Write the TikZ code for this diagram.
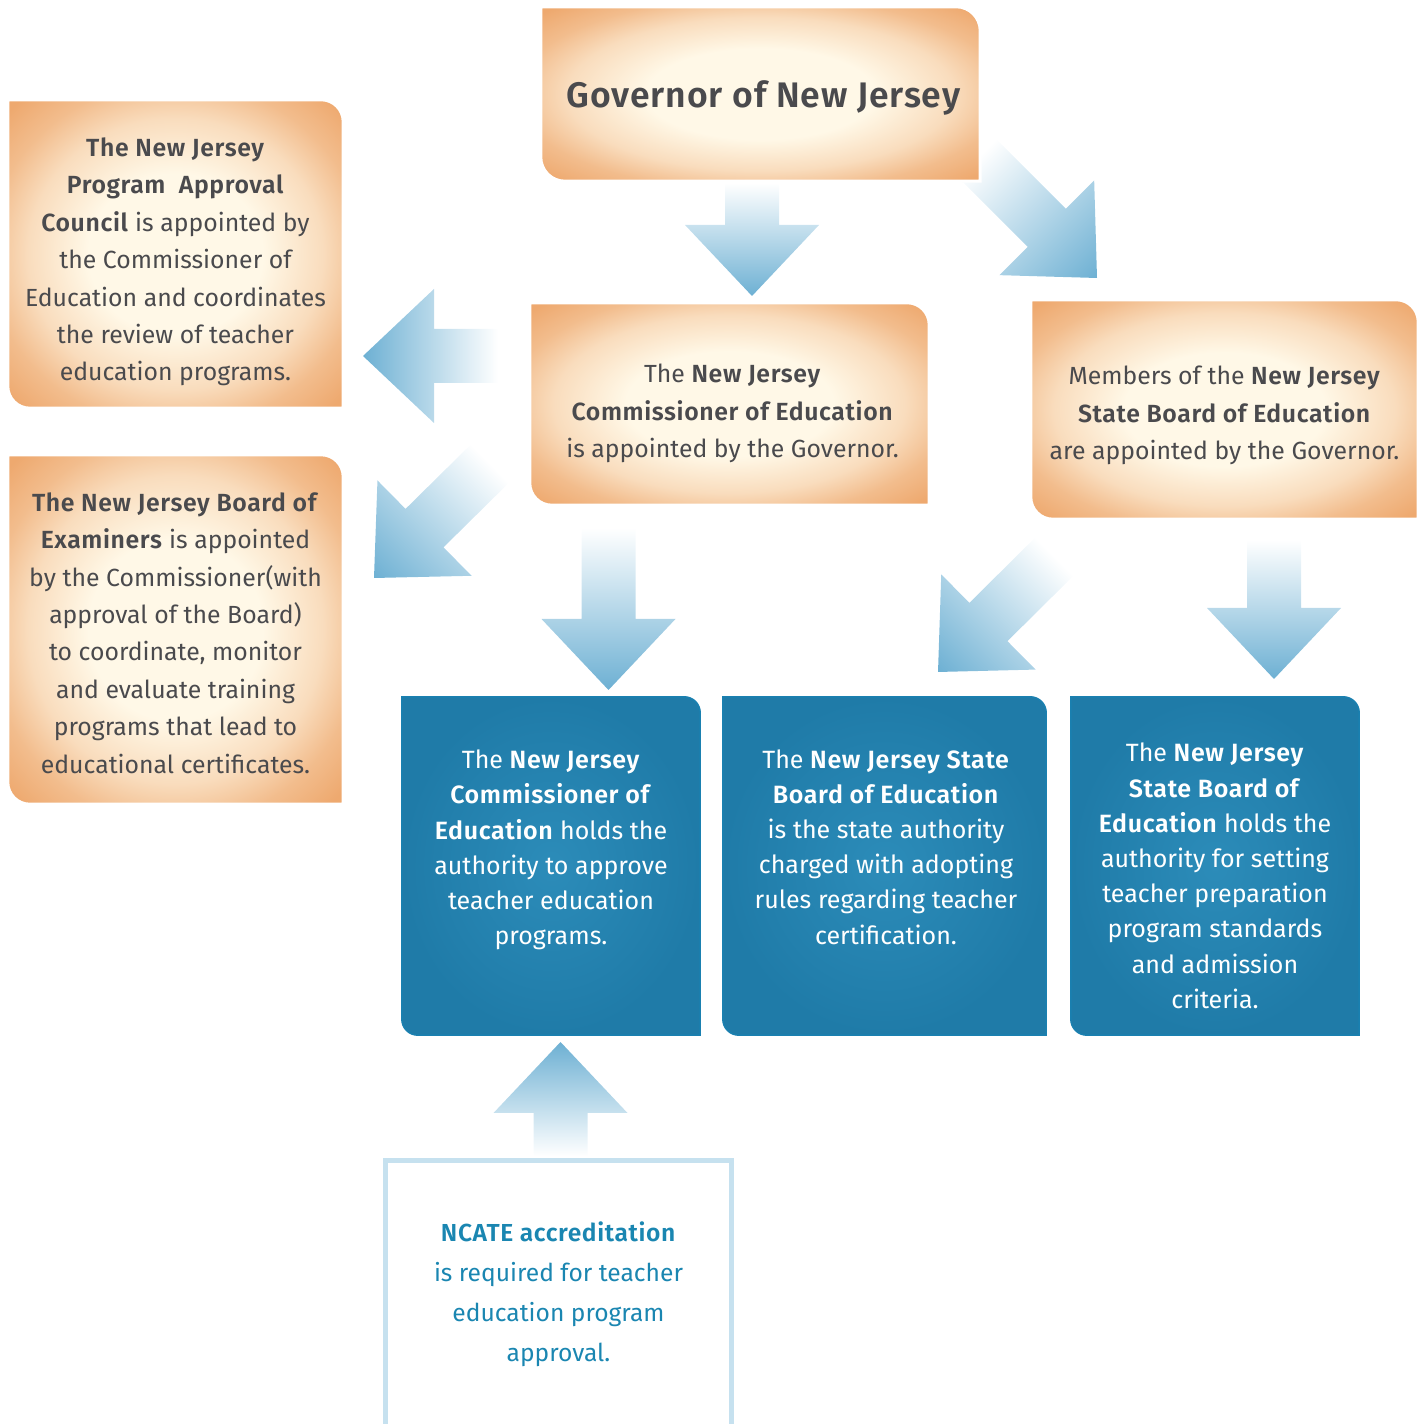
\documentclass[tikz,border=0pt]{standalone}
\usepackage{fontspec}
\setmainfont{Fira Sans}[BoldFont={Fira Sans SemiBold},BoldFeatures={LetterSpace=2.5}]
\usetikzlibrary{calc}
\definecolor{inkgray}{HTML}{4A4A4D}
\definecolor{peach}{HTML}{EEA96F}
\definecolor{cream}{HTML}{FFF8E7}
\definecolor{slatein}{HTML}{2C8CB9}
\definecolor{slateout}{HTML}{1F7BA8}
\definecolor{slateedge}{HTML}{1A80B0}
\definecolor{skyarrow}{HTML}{6DB0D3}
\definecolor{ncateblue}{HTML}{1A86B1}
\definecolor{ncateedge}{HTML}{C6E1EF}

\pgfdeclareradialshading{peachglow}{\pgfpoint{0bp}{0bp}}{color(0bp)=(cream); color(13bp)=(cream); color(22bp)=(peach!35!cream); color(28bp)=(peach!75!cream); color(34bp)=(peach); color(50bp)=(peach)}

% box outline with rounded top-right and bottom-left corners
\newcommand\cutbox[2]{(#1.north west) -- ([xshift=-#2]#1.north east) arc[start angle=90,end angle=0,radius=#2] -- (#1.south east) -- ([xshift=#2]#1.south west) arc[start angle=270,end angle=180,radius=#2] -- cycle}

% shaded block arrow from one coordinate to another
\newcommand\blockarrow[2]{%
  \path let \p1=(#1), \p2=(#2) in
    \pgfextra{\pgfmathsetmacro\arrang{atan2(\y2-\y1,\x2-\x1)}%
              \pgfmathsetmacro\arrlen{veclen(\x2-\x1,\y2-\y1)}%
              \xdef\arrang{\arrang}\xdef\arrlen{\arrlen}};
  \begin{scope}[transform canvas={shift={(#1)},rotate=\arrang}]
    \shade[left color=white,right color=skyarrow]
      (0,-27) -- (\arrlen-71,-27) -- (\arrlen-71,-67) -- (\arrlen,0)
      -- (\arrlen-71,67) -- (\arrlen-71,27) -- (0,27) -- cycle;
  \end{scope}}

\begin{document}
\begin{tikzpicture}[x=1pt,y=1pt,
	boxnode/.style={inner sep=0,minimum width=#1},
	orangefill/.style={shading=peachglow,draw=white,line width=3},
	bluefill/.style={inner color=slatein,outer color=slateout,draw=slateedge,line width=1.5},
	graytext/.style={inner sep=0,align=center,text=inkgray,font=\fontsize{24.8}{37.4}\selectfont},
	whitetext/.style={inner sep=0,align=center,text=white,font=\fontsize{25}{35.2}\selectfont}]
\useasboundingbox (0,0) rectangle (1424,1424);

% boxes
\node[boxnode=439,minimum height=174] (gov) at (760.5,1330) {};
\node[boxnode=335,minimum height=308] (council) at (175.5,1170) {};
\node[boxnode=335,minimum height=349] (examiners) at (175.5,794.5) {};
\node[boxnode=399,minimum height=202] (commish) at (729.5,1020) {};
\node[boxnode=387,minimum height=219] (board) at (1224.5,1014.5) {};
\node[boxnode=298,minimum height=338] (approve) at (551,558) {};
\node[boxnode=323,minimum height=338] (rules) at (884.5,558) {};
\node[boxnode=288,minimum height=338] (standards) at (1215,558) {};
\node[boxnode=346,minimum height=283.5] (ncate) at (558.5,121.75) {};

% arrow ends
\coordinate (gd-s) at (752,1241);    \coordinate (gd-e) at (752,1128);
\coordinate (gb-s) at (977,1266);    \coordinate (gb-e) at (1097,1146);
\coordinate (cl-s) at (498,1068);    \coordinate (cl-e) at (363,1068);
\coordinate (cx-s) at (490,960.5);   \coordinate (cx-e) at (374,846);
\coordinate (cd-s) at (608.5,896);   \coordinate (cd-e) at (608.5,734);
\coordinate (br-s) at (1054.5,867.5); \coordinate (br-e) at (938,752);
\coordinate (bd-s) at (1274,884);    \coordinate (bd-e) at (1274,745);
\coordinate (nu-s) at (560.5,268);   \coordinate (nu-e) at (560.5,382);

\blockarrow{gd-s}{gd-e}
\blockarrow{gb-s}{gb-e}
\blockarrow{cl-s}{cl-e}
\blockarrow{cx-s}{cx-e}
\blockarrow{cd-s}{cd-e}
\blockarrow{br-s}{br-e}
\blockarrow{bd-s}{bd-e}
\blockarrow{nu-s}{nu-e}

\path[orangefill] \cutbox{gov}{24pt};
\path[orangefill] \cutbox{council}{22pt};
\path[orangefill] \cutbox{examiners}{22pt};
\path[orangefill] \cutbox{commish}{22pt};
\path[orangefill] \cutbox{board}{22pt};
\path[bluefill] \cutbox{approve}{16pt};
\path[bluefill] \cutbox{rules}{16pt};
\path[bluefill] \cutbox{standards}{16pt};
\draw[ncateedge,line width=5] (ncate.south west) rectangle (ncate.north east);

% texts
\node[graytext,font=\fontsize{35.5}{40}\selectfont\bfseries] (gov-t) at ([shift={(3,-4)}]gov.center)
	{Governor of New Jersey};
\node[graytext] (council-t) at ([yshift=-8]council.center)
	{\textbf{The New Jersey}\\ \textbf{Program\ \ Approval}\\ \textbf{Council} is appointed by\\
	 the Commissioner of\\ Education and coordinates\\ the review of teacher\\ education programs.};
\node[graytext] (examiners-t) at ([yshift=-3.5]examiners.center)
	{\textbf{The New Jersey Board of}\\ \textbf{Examiners} is appointed\\ by the Commissioner(with\\
	 approval of the Board)\\ to coordinate, monitor\\ and evaluate training\\ programs that lead to\\
	 educational certificates.};
\node[graytext] (commish-t) at ([shift={(3,-9.5)}]commish.center)
	{The \textbf{New Jersey}\\ \textbf{Commissioner of Education}\\ is appointed by the Governor.};
\node[graytext] (board-t) at ([yshift=-6]board.center)
	{Members of the \textbf{New Jersey}\\ \textbf{State Board of Education}\\ are appointed by the Governor.};
\node[whitetext] (approve-t) at ([yshift=16]approve.center)
	{The \textbf{New Jersey}\\ \textbf{Commissioner of}\\ \textbf{Education} holds the\\
	 authority to approve\\ teacher education\\ programs.};
\node[whitetext] (rules-t) at ([shift={(1.5,19)}]rules.center)
	{The \textbf{New Jersey State}\\ \textbf{Board of Education}\\ is the state authority\\
	 charged with adopting\\ rules regarding teacher\\ certification.};
\node[whitetext] (standards-t) at ([yshift=-10]standards.center)
	{The \textbf{New Jersey}\\ \textbf{State Board of}\\ \textbf{Education} holds the\\
	 authority for setting\\ teacher preparation\\ program standards\\ and admission\\ criteria.};
\node[graytext,text=ncateblue,font=\fontsize{24.6}{40}\selectfont] (ncate-t) at ([yshift=8]ncate.center)
	{\textbf{NCATE accreditation}\\ is required for teacher\\ education program\\ approval.};
\end{tikzpicture}
\end{document}
